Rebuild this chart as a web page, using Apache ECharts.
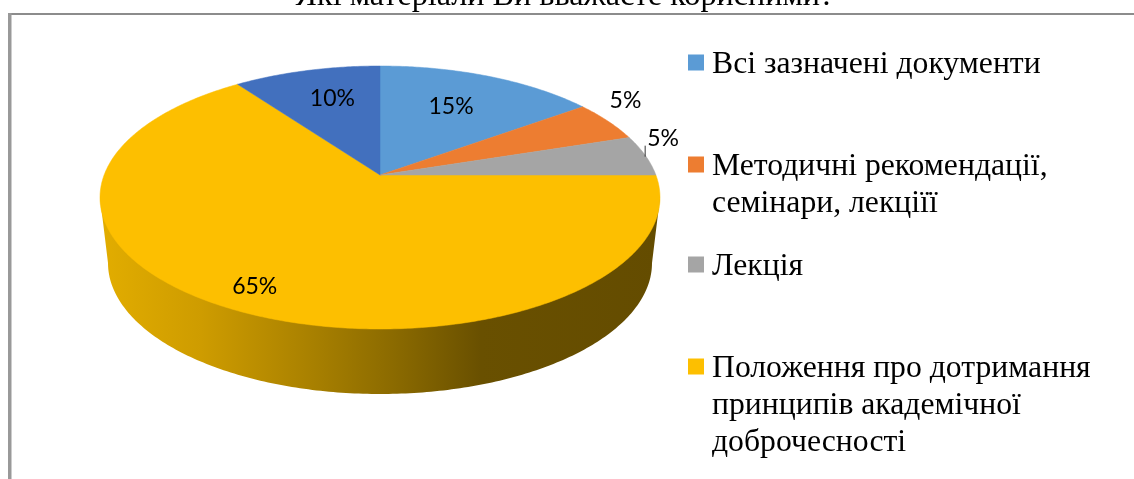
<!DOCTYPE html>
<html><head><meta charset="utf-8">
<style>html,body{margin:0;padding:0;background:#fff}#c{width:1134px;height:479px}</style>
<script src="https://cdn.jsdelivr.net/npm/echarts@6/dist/echarts.min.js"></script>
</head><body><div id="c"></div>
<script>
const titleText = 'Які матеріали Ви вважаєте корисними?';
const categories = ['Всі зазначені документи', 'Методичні рекомендації,\nсемінари, лекціїї', 'Лекція', 'Положення про дотримання\nпринципів академічної\nдоброчесності', 'Інше'];
const shares = [15, 5, 5, 65, 10];
const colors = ['#5B9BD5', '#ED7D31', '#A5A5A5', '#FDBF00', '#4270BE'];

// layout only
const TOP = {cx: 380, cy: 197.5, rx: 280, ry: 131.5};
const BOTTOM = {cx: 380, cy: 263, rx: 272, ry: 131};
const TILT = -0.171;
const labelPlace = [[0.65, -3, -1], [1.15, -14, -13], [1.1, -8, -15], [0.85, -3, 1], [0.7, 6, 0]];
const legendTops = [46, 111, 248, 276];
const labelFont = '23px Lato';
const legendIcon = 'path://M0,0H16V16H0Z M0,20L0,20Z';

const total = shares.reduce((a, b) => a + b, 0);
function project(fr, r) {
  const t = fr * 2 * Math.PI, x = r * Math.sin(t), y = -r * Math.cos(t);
  const d = 1 + TILT * y;
  return [TOP.cx + TOP.rx * x * Math.sqrt(1 - TILT * TILT) / d, TOP.cy + TOP.ry * (y + TILT) / d];
}
function sliceItem(i) {
  return function () {
    const before = shares.slice(0, i).reduce((a, b) => a + b, 0) / total;
    const after = before + shares[i] / total;
    const pts = [project(0, 0)];
    const n = Math.ceil(shares[i] * 6);
    for (let k = 0; k <= n; k++) pts.push(project(before + (after - before) * k / n, 1));
    const children = [];
    if (i === 3) {
      const wall = [[TOP.cx - TOP.rx, TOP.cy]];
      for (let k = 0; k <= 200; k++) {
        const a = Math.PI - Math.PI * k / 200;
        wall.push([BOTTOM.cx + BOTTOM.rx * Math.cos(a), BOTTOM.cy + BOTTOM.ry * Math.sin(a)]);
      }
      wall.push([TOP.cx + TOP.rx, TOP.cy]);
      children.push({type: 'polygon', shape: {points: wall}, style: {
        fill: new echarts.graphic.LinearGradient(0, 0, 1, 0, [
          {offset: 0, color: '#E2AD00'}, {offset: 0.18, color: '#CE9C00'},
          {offset: 0.36, color: '#AC8300'}, {offset: 0.52, color: '#8C6B00'},
          {offset: 0.68, color: '#695000'}, {offset: 1, color: '#644C00'}])
      }});
    }
    children.push({type: 'polygon', shape: {points: pts}, style: {fill: colors[i], stroke: colors[i], lineWidth: 0.5}});
    const mid = before + (after - before) / 2, lp = labelPlace[i], p = project(mid, lp[0]);
    const lx = p[0] + lp[1], ly = p[1] + lp[2];
    if (i === 2) {
      children.push({type: 'line', shape: {x1: lx - 18, y1: ly + 7, x2: lx - 18, y2: ly + 18}, style: {stroke: '#333', lineWidth: 1}});
    }
    children.push({type: 'text', style: {text: shares[i] + '%', x: lx, y: ly, align: 'center', verticalAlign: 'middle', font: labelFont, fill: '#000'}});
    return {type: 'group', children};
  };
}
const series = categories.map((name, i) => ({
  type: 'custom', name, coordinateSystem: 'none', silent: true, animation: false,
  itemStyle: {color: colors[i]}, z: i === 3 ? 1 : 2,
  data: [shares[i]], renderItem: sliceItem(i)
}));
const legends = categories.slice(0, 4).map((name, i) => ({
  data: [{name, icon: legendIcon}], orient: 'vertical', left: 688, top: legendTops[i],
  padding: 0, itemWidth: 16, itemHeight: 20, itemGap: 0, selectedMode: false,
  formatter: n => '\n'.repeat(n.split('\n').length - 1) + n,
  textStyle: {fontFamily: 'Liberation Serif', fontSize: 31.7, lineHeight: 37, color: '#000', padding: [0, 0, 0, 3]}
}));
const chart = echarts.init(document.getElementById('c'), null, {renderer: 'canvas'});
chart.setOption({
  animation: false, backgroundColor: '#fff',
  title: {text: titleText, left: 565, textAlign: 'center', top: -19.5, padding: 0,
    textStyle: {fontFamily: 'Liberation Serif', fontSize: 32.2, fontWeight: 'normal', color: '#000'}},
  legend: legends,
  graphic: [
    {type: 'rect', shape: {x: 8, y: 13, width: 1126, height: 2}, style: {fill: '#8C8C8C'}, silent: true},
    {type: 'rect', shape: {x: 8, y: 13, width: 3.5, height: 466}, style: {fill: '#999999'}, silent: true}
  ],
  series
});
</script></body></html>
